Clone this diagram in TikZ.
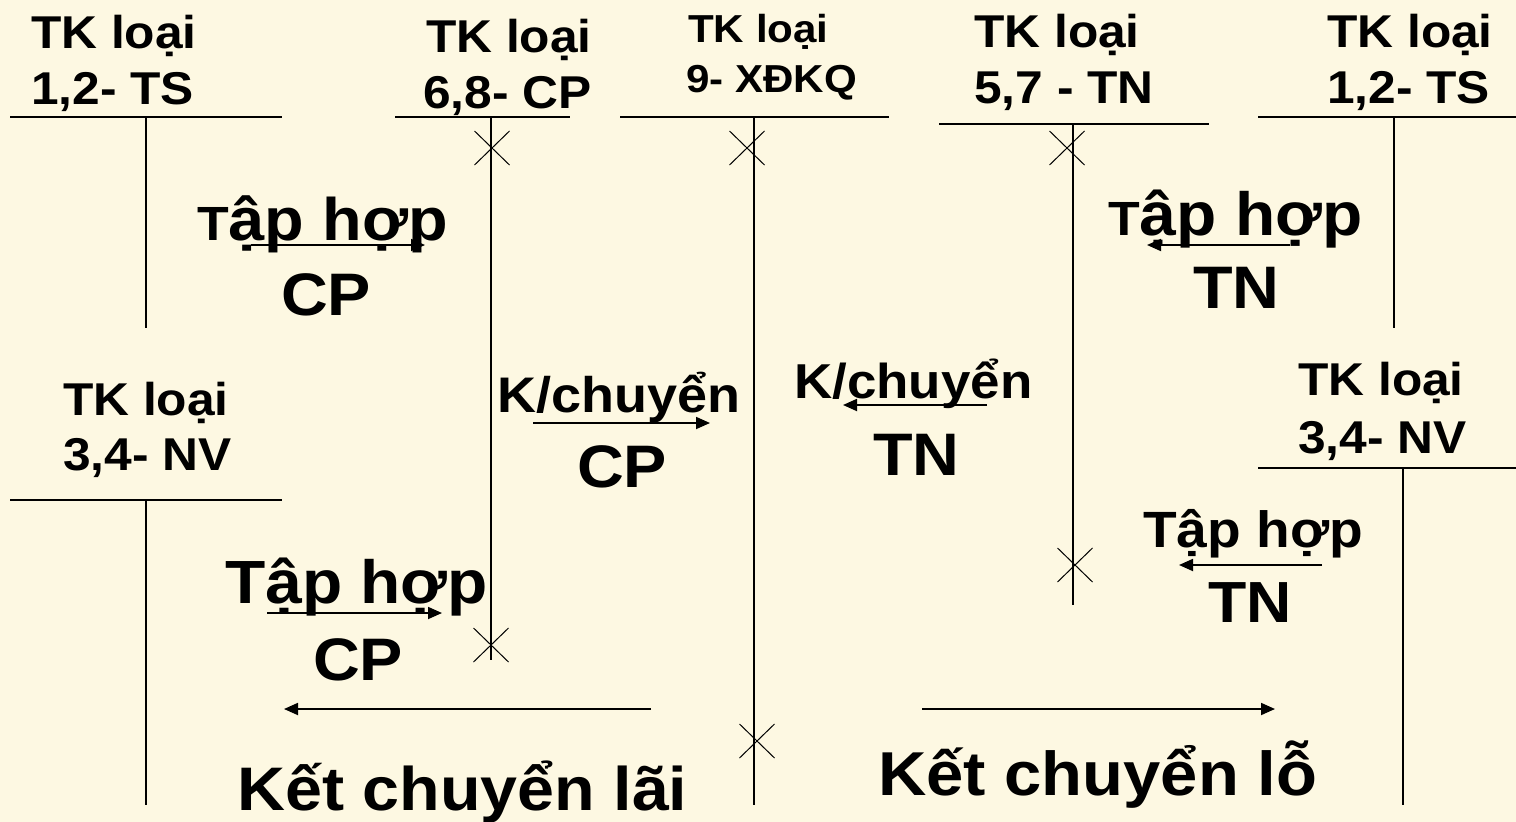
\documentclass[tikz,border=0pt]{standalone}
\usepackage{fontspec}
\setmainfont{Liberation Sans}[FakeStretch=1.08]
\usetikzlibrary{arrows.meta,positioning,shapes.misc}
\definecolor{paper}{RGB}{253,248,226}
\tikzset{
	acct/.style={line width=1.8pt},
	flow/.style={line width=1.8pt, -{Triangle[length=14pt,width=12pt]}},
	tick/.style={cross out, draw, line width=1pt, minimum width=34pt, minimum height=33pt, inner sep=0pt},
	lbl/.style={font=\fontsize{#1}{#1}\selectfont\bfseries, anchor=base west, inner sep=0pt},
	lbl/.default=46
}

\begin{document}
\begin{tikzpicture}[x=1pt, y=-1pt]
		\fill[paper] (0,0) rectangle (1516,822);
		\useasboundingbox (0,0) rectangle (1516,822);
		% T accounts: left end / right end / top / stem / bottom
		\foreach \l/\r/\t/\m/\b in {10/282/117/146/328, 395/570/117/491/660, 620/889/117/754/805, 939/1209/124/1073/605, 1258/1516/117/1394/328, 10/282/500/146/805, 1258/1516/468/1403/805}
			\draw[acct] (\l,\t) -- (\r,\t) (\m,\t) -- (\m,\b);
		% account titles
		\node[lbl] (tsA1) at (31,48) {TK loại};
		\node[lbl] (tsA2) at (31,104) {1,2- TS};
		\node[lbl] (cp1) at (426,52) {TK loại};
		\node[lbl] (cp2) at (423,108) {6,8- CP};
		\node[lbl=39] (kq1) at (688,42) {TK loại};
		\node[lbl=39] (kq2) at (686,92) {9- XĐKQ};
		\node[lbl] (tn1) at (974,47) {TK loại};
		\node[lbl] (tn2) at (974,103) {5,7 - TN};
		\node[lbl] (tsB1) at (1327,47) {TK loại};
		\node[lbl] (tsB2) at (1327,103) {1,2- TS};
		\node[lbl] (nvA1) at (63,415) {TK loại};
		\node[lbl] (nvA2) at (63,470) {3,4- NV};
		\node[lbl] (nvB1) at (1298,395) {TK loại};
		\node[lbl] (nvB2) at (1298,453) {3,4- NV};
		% entries
		\node[lbl=60] (thCP) at (197,240) {{\fontsize{48}{48}\selectfont T}ập hợp};
		\node[lbl=60] (thCP2) at (281,315) {CP};
		\node[lbl=61] (thTN) at (1108,235) {{\fontsize{48}{48}\selectfont T}ập hợp};
		\node[lbl=60] (thTN2) at (1193,308) {TN};
		\node[lbl=50] (kcCP) at (497,412) {K/chuyển};
		\node[lbl=60] (kcCP2) at (577,487) {CP};
		\node[lbl=49] (kcTN) at (794,398) {K/chuyển};
		\node[lbl=60] (kcTN2) at (873,475) {TN};
		\node[lbl=61] (thCPb) at (225,603) {Tập hợp};
		\node[lbl=60] (thCPb2) at (313,680) {CP};
		\node[lbl=51] (thTNb) at (1143,547) {Tập hợp};
		\node[lbl=58] (thTNb2) at (1208,622) {TN};
		\node[lbl=61.5] (lai) at (237,810) {Kết chuyển lãi};
		\node[lbl=62] (lo) at (878,795) {Kết chuyển lỗ};
		% closing marks
		\node[tick] (x1) at (492,148) {};
		\node[tick] (x2) at (747,148) {};
		\node[tick] (x3) at (1067,148) {};
		\node[tick] (x4) at (491,645) {};
		\node[tick] (x5) at (757,741) {};
		\node[tick] (x6) at (1075,565) {};
		% flows
		\coordinate (a1s) at (251,245); \coordinate (a1e) at (425,245);
		\coordinate (a2s) at (1290,245); \coordinate (a2e) at (1147,245);
		\coordinate (a3s) at (533,423); \coordinate (a3e) at (710,423);
		\coordinate (a4s) at (987,405); \coordinate (a4e) at (843,405);
		\coordinate (a5s) at (267,613); \coordinate (a5e) at (442,613);
		\coordinate (a6s) at (1322,565); \coordinate (a6e) at (1179,565);
		\coordinate (a7s) at (651,709); \coordinate (a7e) at (284,709);
		\coordinate (a8s) at (922,709); \coordinate (a8e) at (1275,709);
		\foreach \i in {1,...,8}
			\draw[flow] (a\i s) -- (a\i e);
	\end{tikzpicture}
\end{document}
